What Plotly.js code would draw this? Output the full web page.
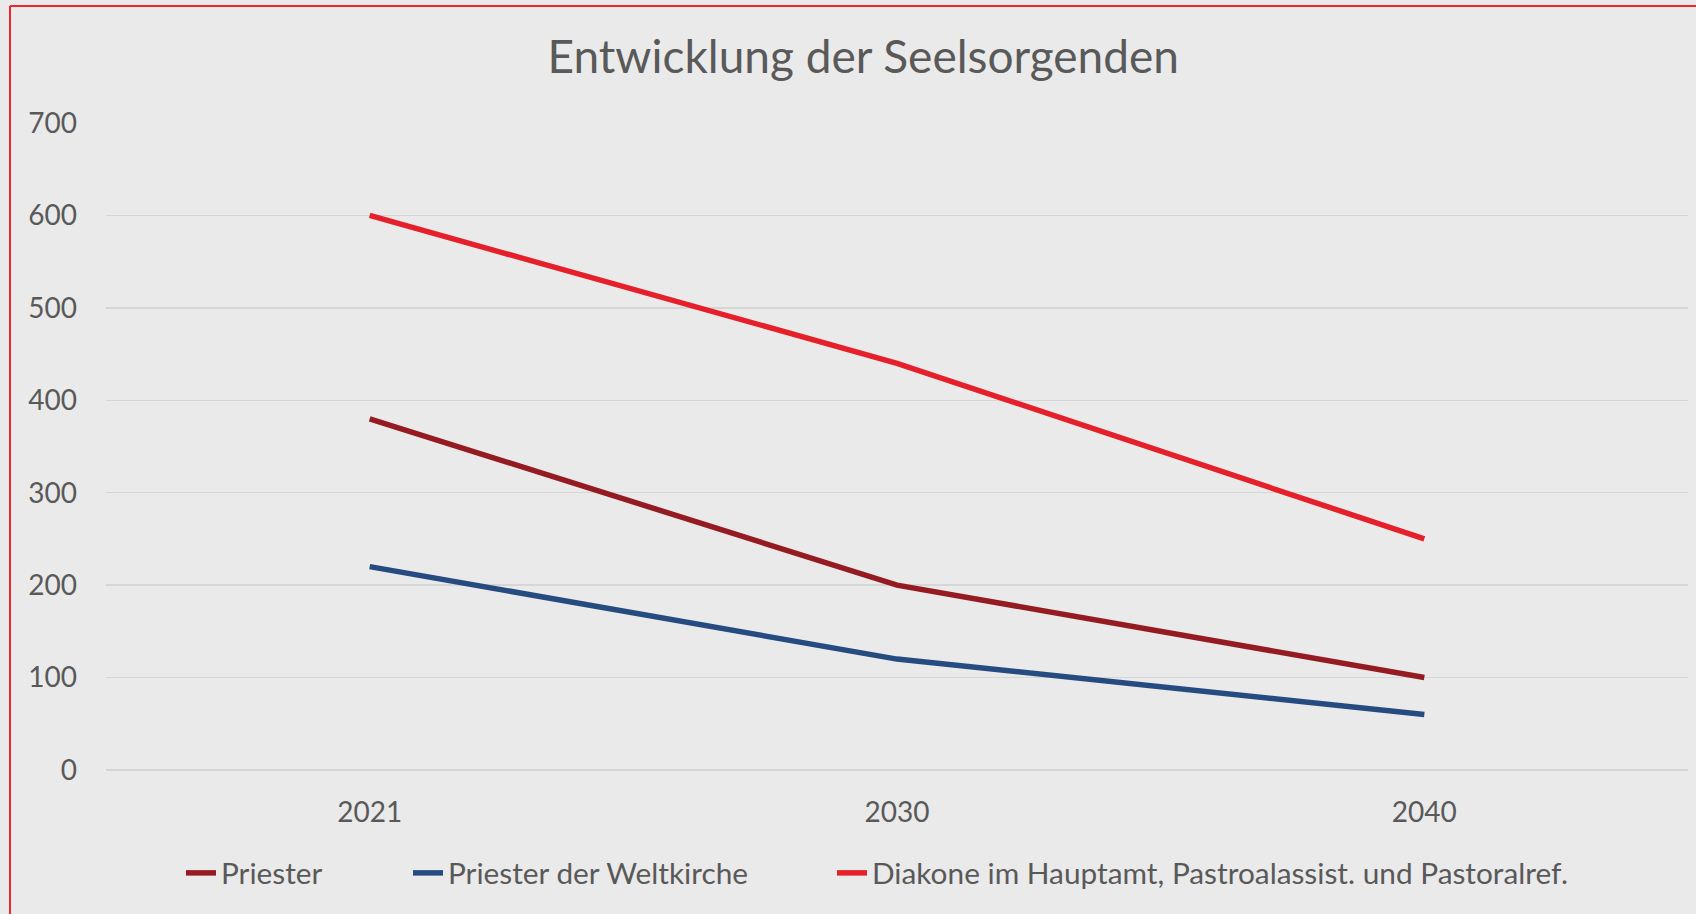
<!DOCTYPE html>
<html>
<head>
<meta charset="utf-8">
<script src="https://cdn.plot.ly/plotly-3.0.1.min.js"></script>
<style>
html,body{margin:0;padding:0;background:#EAEAEA;}
#chart{width:1696px;height:914px;}
</style>
</head>
<body>
<div id="chart"></div>
<script>
const categories = ["2021", "2030", "2040"];
const seriesNames = ["Priester", "Priester der Weltkirche", "Diakone im Hauptamt, Pastroalassist. und Pastoralref."];
const priester = [380, 200, 100];
const weltkirche = [220, 120, 60];
const diakone = [600, 440, 250];
const yTicks = [0, 100, 200, 300, 400, 500, 600, 700];

const colors = ["#951B22", "#264B80", "#E5202A"];
const values = [priester, weltkirche, diakone];
const legendIds = ["legend", "legend2", "legend3"];

const traces = values.map((v, i) => ({
  type: "scatter",
  mode: "lines",
  x: categories,
  y: v,
  name: seriesNames[i],
  legend: legendIds[i],
  line: {color: colors[i], width: 5.5},
  hoverinfo: "x+y+name"
}));

const font = "Lato, 'Open Sans', sans-serif";
const legFont = {family: font, size: 29.8, color: "#595959"};
const textStarts = [226, 453, 877];

function mkLegend(i) {
  return {
    orientation: "h",
    xref: "container", yref: "container",
    x: (textStarts[i] - 45) / 1696, xanchor: "left",
    y: 1 - 873/914, yanchor: "middle",
    font: legFont,
    bgcolor: "rgba(0,0,0,0)",
    itemwidth: 30
  };
}

const layout = {
  width: 1696,
  height: 914,
  paper_bgcolor: "#EAEAEA",
  plot_bgcolor: "#EAEAEA",
  margin: {l: 106, r: 8, t: 123, b: 144},
  font: {family: font, color: "#595959", size: 28},
  title: {
    text: "Entwicklung der Seelsorgenden",
    font: {family: font, size: 46, color: "#595959"},
    xref: "container", x: 0.509, xanchor: "center",
    yref: "container", y: 1 - 57/914, yanchor: "middle"
  },
  xaxis: {
    type: "category",
    range: [-0.5, 2.5],
    showgrid: false,
    zeroline: false,
    showline: false,
    ticks: "",
    ticklabelstandoff: 23,
    tickfont: {family: font, size: 28, color: "#595959"}
  },
  yaxis: {
    range: [0, 700],
    tickvals: yTicks,
    ticktext: yTicks.map(String),
    showgrid: true,
    gridcolor: "#D6D6D6",
    gridwidth: 1.5,
    zeroline: true,
    zerolinecolor: "#D6D6D6",
    zerolinewidth: 1.5,
    showline: false,
    ticks: "",
    ticklabelstandoff: 28,
    tickfont: {family: font, size: 28, color: "#595959"}
  },
  showlegend: true,
  legend: mkLegend(0),
  legend2: mkLegend(1),
  legend3: mkLegend(2),
  shapes: [
    {type: "line", xref: "paper", yref: "paper", x0: (10-106)/1582, x1: (10-106)/1582, y0: (770-6)/647, y1: (770-930)/647, line: {color: "#F0262D", width: 2}},
    {type: "line", xref: "paper", yref: "paper", x0: (10-106)/1582, x1: (1710-106)/1582, y0: (770-6)/647, y1: (770-6)/647, line: {color: "#F0262D", width: 2}}
  ]
};

Plotly.newPlot("chart", traces, layout, {displayModeBar: false, staticPlot: true});
</script>
</body>
</html>
